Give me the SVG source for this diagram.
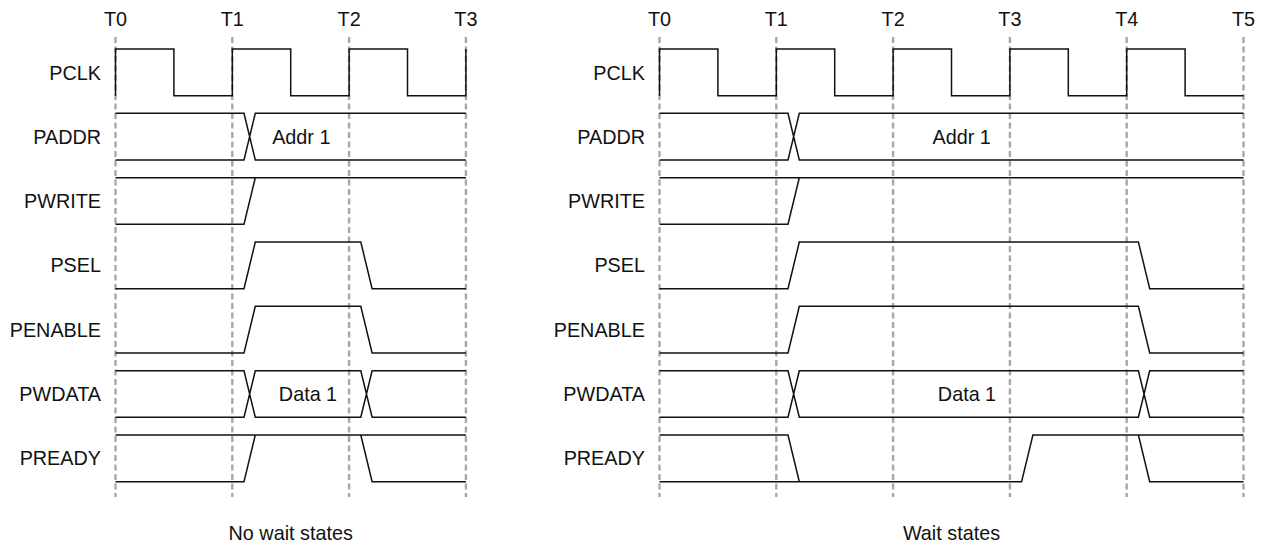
<svg xmlns="http://www.w3.org/2000/svg" width="1265" height="546" viewBox="0 0 1265 546">
<style>
text{font-family:"Liberation Sans",Arial,sans-serif;font-size:19.8px;fill:#111}
.lbl{text-anchor:end}
.mid{text-anchor:middle}
.grid line{stroke:#a8a8a8;stroke-width:2.4;stroke-dasharray:6 3.5}
.sig{fill:none;stroke:#111;stroke-width:1.5;stroke-linejoin:miter}
</style>
<rect width="1265" height="546" fill="#fff"/>
<g id="left">
  <g id="left-grid" class="grid">
    <line x1="115.5" y1="37" x2="115.5" y2="497"/>
    <line x1="232.3" y1="37" x2="232.3" y2="497"/>
    <line x1="349.1" y1="37" x2="349.1" y2="497"/>
    <line x1="465.9" y1="37" x2="465.9" y2="497"/>
  </g>
  <g id="left-times">
    <text class="mid" x="115.5" y="26">T0</text>
    <text class="mid" x="232.3" y="26">T1</text>
    <text class="mid" x="349.1" y="26">T2</text>
    <text class="mid" x="465.9" y="26">T3</text>
  </g>
  <g id="left-pclk">
    <text class="lbl" x="101" y="79.5">PCLK</text>
    <path class="sig" d="M115.5,95.7 V49 H173.9 V95.7 H232.3 V49 H290.7 V95.7 H349.1 V49 H407.5 V95.7 H465.9 V49"/>
  </g>
  <g id="left-paddr">
    <text class="lbl" x="101" y="143.7">PADDR</text>
    <path class="sig" d="M115.5,113.3 H244 L255.3,160 H465.9 M115.5,160 H244 L255.3,113.3 H465.9"/>
    <text class="mid" x="301.3" y="143.7">Addr 1</text>
  </g>
  <g id="left-pwrite">
    <text class="lbl" x="101" y="208">PWRITE</text>
    <path class="sig" d="M115.5,177.7 H465.9 M115.5,224.3 H244 L255.3,177.7"/>
  </g>
  <g id="left-psel">
    <text class="lbl" x="101" y="272.3">PSEL</text>
    <path class="sig" d="M115.5,288.7 H244 L255.3,242 H360.8 L372.1,288.7 H465.9"/>
  </g>
  <g id="left-penable">
    <text class="lbl" x="101" y="336.7">PENABLE</text>
    <path class="sig" d="M115.5,353 H244 L255.3,306.3 H360.8 L372.1,353 H465.9"/>
  </g>
  <g id="left-pwdata">
    <text class="lbl" x="101" y="401">PWDATA</text>
    <path class="sig" d="M115.5,370.7 H244 L255.3,417.3 H360.8 L372.1,370.7 H465.9 M115.5,417.3 H244 L255.3,370.7 H360.8 L372.1,417.3 H465.9"/>
    <text class="mid" x="308" y="401">Data 1</text>
  </g>
  <g id="left-pready">
    <text class="lbl" x="101" y="465.3">PREADY</text>
    <path class="sig" d="M115.5,435 H465.9 M115.5,481.7 H244 L255.3,435 M360.8,435 L372.1,481.7 H465.9"/>
  </g>
  <text id="left-title" class="mid" x="290.7" y="540">No wait states</text>
</g>
<g id="right" transform="translate(544,0)">
  <g id="right-grid" class="grid">
    <line x1="115.5" y1="37" x2="115.5" y2="497"/>
    <line x1="232.3" y1="37" x2="232.3" y2="497"/>
    <line x1="349.1" y1="37" x2="349.1" y2="497"/>
    <line x1="465.9" y1="37" x2="465.9" y2="497"/>
    <line x1="582.7" y1="37" x2="582.7" y2="497"/>
    <line x1="699.5" y1="37" x2="699.5" y2="497"/>
  </g>
  <g id="right-times">
    <text class="mid" x="115.5" y="26">T0</text>
    <text class="mid" x="232.3" y="26">T1</text>
    <text class="mid" x="349.1" y="26">T2</text>
    <text class="mid" x="465.9" y="26">T3</text>
    <text class="mid" x="582.7" y="26">T4</text>
    <text class="mid" x="699.5" y="26">T5</text>
  </g>
  <g id="right-pclk">
    <text class="lbl" x="101" y="79.5">PCLK</text>
    <path class="sig" d="M115.5,95.7 V49 H173.9 V95.7 H232.3 V49 H290.7 V95.7 H349.1 V49 H407.5 V95.7 H465.9 V49 H524.3 V95.7 H582.7 V49 H641.1 V95.7 H699.5"/>
  </g>
  <g id="right-paddr">
    <text class="lbl" x="101" y="143.7">PADDR</text>
    <path class="sig" d="M115.5,113.3 H244 L255.3,160 H699.5 M115.5,160 H244 L255.3,113.3 H699.5"/>
    <text class="mid" x="417.7" y="143.7">Addr 1</text>
  </g>
  <g id="right-pwrite">
    <text class="lbl" x="101" y="208">PWRITE</text>
    <path class="sig" d="M115.5,177.7 H699.5 M115.5,224.3 H244 L255.3,177.7"/>
  </g>
  <g id="right-psel">
    <text class="lbl" x="101" y="272.3">PSEL</text>
    <path class="sig" d="M115.5,288.7 H244 L255.3,242 H594.4 L605.7,288.7 H699.5"/>
  </g>
  <g id="right-penable">
    <text class="lbl" x="101" y="336.7">PENABLE</text>
    <path class="sig" d="M115.5,353 H244 L255.3,306.3 H594.4 L605.7,353 H699.5"/>
  </g>
  <g id="right-pwdata">
    <text class="lbl" x="101" y="401">PWDATA</text>
    <path class="sig" d="M115.5,370.7 H244 L255.3,417.3 H594.4 L605.7,370.7 H699.5 M115.5,417.3 H244 L255.3,370.7 H594.4 L605.7,417.3 H699.5"/>
    <text class="mid" x="423" y="401">Data 1</text>
  </g>
  <g id="right-pready">
    <text class="lbl" x="101" y="465.3">PREADY</text>
    <path class="sig" d="M115.5,435 H244 L255.3,481.7 M115.5,481.7 H477.6 L488.9,435 H699.5 M594.4,435 L605.7,481.7 H699.5"/>
  </g>
  <text id="right-title" class="mid" x="407.5" y="540">Wait states</text>
</g>
</svg>
